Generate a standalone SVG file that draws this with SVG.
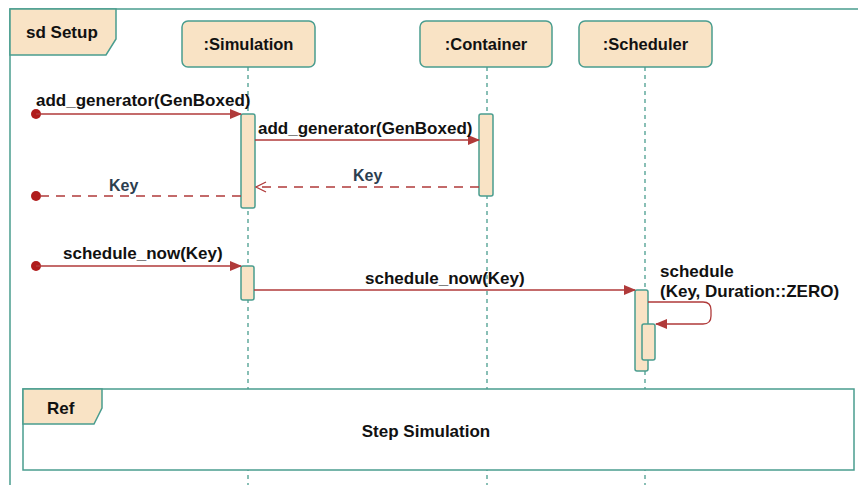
<svg xmlns="http://www.w3.org/2000/svg" width="858" height="485" viewBox="0 0 858 485">
<defs>
<style>
.t{font-family:"Liberation Sans",Arial,sans-serif;font-weight:bold;font-size:17px;fill:#111}
.k{font-family:"Liberation Sans",Arial,sans-serif;font-weight:bold;font-size:16px;fill:#2c3e50}
.frame{fill:none;stroke:#4a9d8f;stroke-width:1.5}
.box{fill:#f9e3c5;stroke:#4a9d8f;stroke-width:1.5}
.life{stroke:#4a9d8f;stroke-width:1.3;stroke-dasharray:4 4;fill:none}
.msg{stroke:#b03a3a;stroke-width:1.3;fill:none}
.ret{stroke:#b03a3a;stroke-width:1.3;fill:none;stroke-dasharray:9 7}
.dot{fill:#b01c1c}
</style>
<marker id="fa" markerWidth="12" markerHeight="10" refX="11" refY="5" orient="auto" markerUnits="userSpaceOnUse">
<path d="M0,0 L12,5 L0,10 Z" fill="#b03a3a"/>
</marker>
<marker id="oa" markerWidth="12" markerHeight="12" refX="11" refY="6" orient="auto" markerUnits="userSpaceOnUse">
<path d="M1,1 L11,6 L1,11" fill="none" stroke="#b03a3a" stroke-width="1.3"/>
</marker>
</defs>
<rect width="858" height="485" fill="#fff"/>

<g id="frame-setup">
<path class="frame" d="M10,485 L10,9 L858,9"/>
<path class="box" d="M10,9 L116,9 L116,39 L106,55 L10,55 Z"/>
<text class="t" x="26" y="38">sd Setup</text>
</g>

<g id="lifelines">
<line class="life" x1="248" y1="67" x2="248" y2="485"/>
<line class="life" x1="487" y1="67" x2="487" y2="485"/>
<line class="life" x1="645" y1="67" x2="645" y2="485"/>
</g>

<g id="simulation">
<rect class="box" x="182" y="21" width="133" height="46" rx="6"/>
<text class="t" x="248.5" y="50" text-anchor="middle" style="font-size:16.5px">:Simulation</text>
</g>
<g id="container">
<rect class="box" x="420" y="21" width="132" height="46" rx="6"/>
<text class="t" x="486" y="50" text-anchor="middle" style="font-size:16.5px">:Container</text>
</g>
<g id="scheduler">
<rect class="box" x="579" y="21" width="133" height="46" rx="6"/>
<text class="t" x="645.5" y="50" text-anchor="middle" style="font-size:16.5px">:Scheduler</text>
</g>

<g id="activations">
<rect class="box" x="241" y="114" width="14" height="94" rx="2"/>
<rect class="box" x="479" y="114" width="14" height="82" rx="2"/>
<rect class="box" x="241" y="266" width="13" height="34" rx="2"/>
<rect class="box" x="635" y="290" width="13" height="81" rx="2"/>
<rect class="box" x="642" y="324" width="13" height="36" rx="2"/>
</g>

<g id="connectors">
<circle class="dot" cx="36" cy="114" r="5"/>
<line class="msg" x1="36" y1="114" x2="241" y2="114" marker-end="url(#fa)"/>
<line class="msg" x1="255" y1="140" x2="479" y2="140" marker-end="url(#fa)"/>
<line class="ret" x1="479" y1="187" x2="256" y2="187" marker-end="url(#oa)"/>
<circle class="dot" cx="36" cy="196" r="5"/>
<line class="ret" x1="241" y1="196" x2="36" y2="196"/>
<circle class="dot" cx="36" cy="266" r="5"/>
<line class="msg" x1="36" y1="266" x2="241" y2="266" marker-end="url(#fa)"/>
<line class="msg" x1="254" y1="290" x2="635" y2="290" marker-end="url(#fa)"/>
<path class="msg" d="M648,302 L703,302 Q711,302 711,310 L711,316 Q711,324 703,324 L656,324" marker-end="url(#fa)"/>
</g>

<g id="labels">
<text class="t" x="36" y="106">add_generator(GenBoxed)</text>
<text class="t" x="258" y="134">add_generator(GenBoxed)</text>
<text class="k" x="353" y="181">Key</text>
<text class="k" x="109" y="191">Key</text>
<text class="t" x="63" y="259">schedule_now(Key)</text>
<text class="t" x="365" y="284">schedule_now(Key)</text>
<text class="t" x="660" y="277">schedule</text>
<text class="t" x="660" y="297">(Key, Duration::ZERO)</text>
</g>

<g id="ref-step-simulation">
<rect x="23" y="389" width="831" height="81" fill="#fff" stroke="#4a9d8f" stroke-width="1.5"/>
<path class="box" d="M23,389 L102,389 L102,408 L94,424 L23,424 Z"/>
<text class="t" x="47" y="414">Ref</text>
<text class="t" x="426" y="437" text-anchor="middle">Step Simulation</text>
</g>
</svg>
